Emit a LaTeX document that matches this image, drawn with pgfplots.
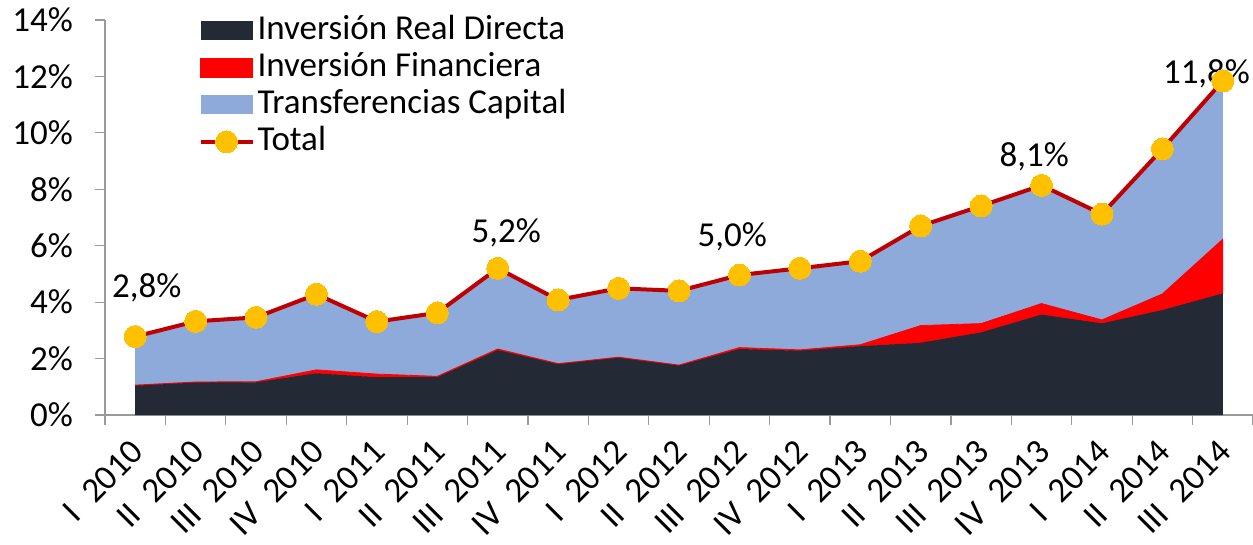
\documentclass[border=0pt]{standalone}
\usepackage{fontspec}
\setmainfont{Carlito}
\usepackage{pgfplots}
\pgfplotsset{compat=1.18}
\usepackage{pgfplotstable}
\definecolor{ird}{HTML}{232935}
\definecolor{ifred}{HTML}{FF0000}
\definecolor{tcblue}{HTML}{8EAADB}
\definecolor{linered}{HTML}{C00000}
\definecolor{markyellow}{HTML}{FFC000}
\definecolor{axisgray}{HTML}{9A9A9A}
\newcommand{\q}[2]{#1\hspace{0.5em}#2}
\pgfplotsset{
  myarea/.style={legend image code/.code={\fill[##1] (0pt,-9.5pt) rectangle (52pt,9.5pt);}},
  myline/.style={legend image code/.code={\draw[mark repeat=2,mark phase=2,##1] plot coordinates {(0pt,0pt)(26pt,0pt)(52pt,0pt)};}},
}
\pgfplotstableread{
x ird if tc total
0 1.04 0.02 1.72 2.78
1 1.15 0.02 2.15 3.32
2 1.16 0.02 2.28 3.46
3 1.48 0.12 2.68 4.28
4 1.34 0.11 1.86 3.31
5 1.34 0.03 2.25 3.62
6 2.30 0.04 2.86 5.20
7 1.80 0.02 2.26 4.08
8 2.03 0.02 2.44 4.49
9 1.75 0.02 2.63 4.40
10 2.34 0.05 2.57 4.96
11 2.28 0.03 2.89 5.20
12 2.44 0.05 2.96 5.45
13 2.56 0.61 3.53 6.70
14 2.93 0.31 4.17 7.41
15 3.56 0.39 4.19 8.14
16 3.25 0.12 3.75 7.12
17 3.72 0.57 5.14 9.43
18 4.31 1.92 5.61 11.84
}\data
\begin{document}
\begin{tikzpicture}[font=\fontsize{35}{42}\selectfont]
\begin{axis}[name=ax,
  width=1148pt, height=395pt, scale only axis,
  xmin=-0.5, xmax=18.5, ymin=0, ymax=14,
  axis x line*=bottom, axis y line*=left,
  axis line style={draw=axisgray, line width=1.2pt},
  ytick={0,2,...,14},
  yticklabels={0\%,2\%,4\%,6\%,8\%,10\%,12\%,14\%},
  xtick={0,...,18},
  xticklabels={\q{I}{2010},\q{II}{2010},\q{III}{2010},\q{IV}{2010},\q{I}{2011},\q{II}{2011},\q{III}{2011},\q{IV}{2011},\q{I}{2012},\q{II}{2012},\q{III}{2012},\q{IV}{2012},\q{I}{2013},\q{II}{2013},\q{III}{2013},\q{IV}{2013},\q{I}{2014},\q{II}{2014},\q{III}{2014}},
  x tick label style={yshift=-13pt, xshift=-6pt, rotate=45, anchor=north east, inner sep=0pt},
  y tick label style={inner sep=0pt, xshift=-22pt},
  minor xtick={-0.5,0.5,...,18.5},
  tick align=outside, major tick length=10pt, minor tick length=10pt,
  major x tick style={draw=none},
  tick style={axisgray, line width=1.2pt},
  stack plots=y,
  legend style={at={(rel axis cs:0.0787,1.02)}, anchor=north west, draw=none, fill=none,
    row sep=4pt, column sep=3pt, nodes={inner sep=0pt, text height=25pt, text depth=8pt}},
  legend cell align=left,
]
\addplot[fill=ird, draw=none, myarea] table[x=x,y=ird]{\data} \closedcycle;
\addlegendentry{Inversión Real Directa}
\addplot[fill=ifred, draw=ifred, line width=0.8pt, myarea] table[x=x,y=if]{\data} \closedcycle;
\addlegendentry{Inversión Financiera}
\addplot[fill=tcblue, draw=none, myarea] table[x=x,y=tc]{\data} \closedcycle;
\addlegendentry{Transferencias Capital}
\addlegendimage{color=linered, line width=4pt, mark=*, mark size=11pt, mark options={fill=markyellow, draw=markyellow, line width=0pt}, myline}
\addlegendentry{Total}
\end{axis}
\begin{axis}[
  width=1148pt, height=395pt, scale only axis,
  xmin=-0.5, xmax=18.5, ymin=0, ymax=14,
  hide axis, clip=false,
]
\addplot[color=linered, line width=4pt, mark=*, mark size=11pt, mark options={fill=markyellow, draw=markyellow, line width=0pt}] table[x=x,y=total]{\data};
\node[anchor=base] at (axis cs:0.19,4.15) {2,8\%};
\node[anchor=base] at (axis cs:6.14,6.10) {5,2\%};
\node[anchor=base] at (axis cs:9.88,5.96) {5,0\%};
\node[anchor=base] at (axis cs:14.88,8.79) {8,1\%};
\node[anchor=base] at (axis cs:17.73,11.74) {11,8\%};
\end{axis}
\pgfresetboundingbox
\path[use as bounding box] ([xshift=-105pt,yshift=-129pt]ax.south west) rectangle ([yshift=20pt]ax.north east);
\end{tikzpicture}
\end{document}
